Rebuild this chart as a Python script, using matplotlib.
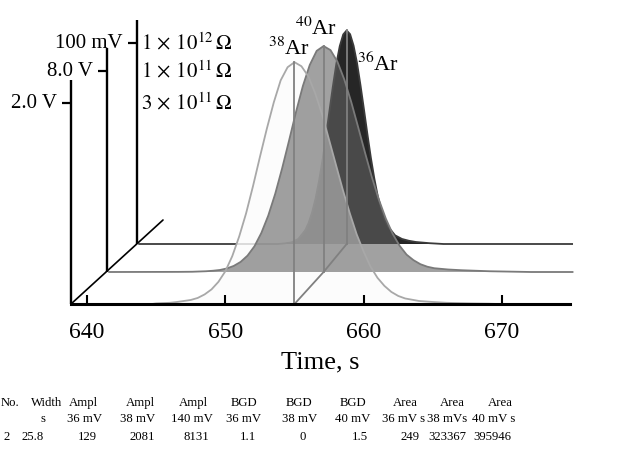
import numpy as np
import matplotlib
matplotlib.use("Agg")
import matplotlib.pyplot as plt
from matplotlib.transforms import offset_copy
from matplotlib.patches import ConnectionPatch

plt.rcParams['font.family'] = ['Liberation Serif', 'DejaVu Serif']
plt.rcParams['mathtext.fontset'] = 'stix'

# ---------------- data ----------------
# 38Ar, front layer (V)
t38 = [644.7, 645.0, 646.0, 646.5, 647.0, 647.5, 648.0, 648.5, 649.0, 649.5,
       650.0, 650.5, 651.0, 651.5, 652.0, 652.5, 653.0, 653.5, 654.0, 654.5,
       655.0, 655.5, 656.0, 656.5, 657.0, 657.5, 658.0, 658.5, 659.0, 659.5,
       660.0, 660.5, 661.0, 661.5, 662.0, 662.5, 663.0, 664.0, 665.0, 666.0,
       667.0, 668.0, 669.0, 669.7]
v38 = [0.0, 0.006, 0.012, 0.02, 0.03, 0.04, 0.06, 0.095, 0.145, 0.22,
       0.325, 0.475, 0.67, 0.90, 1.17, 1.46, 1.74, 2.00, 2.22, 2.35,
       2.40, 2.36, 2.26, 2.09, 1.88, 1.63, 1.38, 1.13, 0.90, 0.69,
       0.52, 0.37, 0.26, 0.18, 0.12, 0.08, 0.055, 0.03, 0.02, 0.012,
       0.008, 0.005, 0.003, 0.0]

# 40Ar, middle layer (V)
t40 = [639.0, 644.0, 645.0, 646.0, 646.5, 647.0, 647.5, 648.0, 648.5, 649.0,
       649.5, 650.0, 650.5, 651.0, 651.5, 652.0, 652.5, 653.0, 653.5, 654.0,
       654.5, 655.0, 655.5, 656.0, 656.5, 657.0, 657.5, 658.0, 658.5, 659.0,
       659.5, 660.0, 660.5, 661.0, 661.5, 662.0, 662.5, 663.5, 664.5, 665.5,
       666.5, 667.5, 668.5, 669.5, 672.5]
v40 = [0.0, 0.005, 0.01, 0.03, 0.05, 0.08, 0.14, 0.24, 0.40, 0.65,
       1.02, 1.55, 2.24, 3.10, 4.11, 5.21, 6.34, 7.38, 8.22, 8.78,
       8.97, 8.81, 8.35, 7.64, 6.75, 5.75, 4.73, 3.75, 2.87, 2.12,
       1.51, 1.04, 0.69, 0.47, 0.31, 0.21, 0.15, 0.10, 0.07, 0.05,
       0.03, 0.02, 0.01, 0.0, 0.0]

# 36Ar, back layer (mV)
t36 = [639.0, 649.0, 649.5, 650.0, 650.5, 651.0, 651.25, 651.5, 651.75, 652.0,
       652.25, 652.5, 652.75, 653.0, 653.25, 653.5, 653.75, 654.0, 654.25, 654.5,
       654.75, 655.0, 655.25, 655.5, 655.75, 656.0, 656.25, 656.5, 656.75, 657.0,
       657.5, 658.0, 658.5, 659.0, 660.0, 661.0, 670.3]
v36 = [0.0, 0.0, 0.3, 0.8, 2.5, 6.8, 10.5, 15.7, 22.6, 31.3,
       41.6, 53.3, 65.8, 78.1, 89.3, 98.2, 104.0, 106.0, 104.1, 98.4,
       89.8, 78.8, 66.8, 54.5, 42.8, 32.5, 23.7, 17.5, 12.3, 8.6,
       4.3, 2.5, 1.6, 1.0, 0.4, 0.0, 0.0]

isotopes = ["$^{38}$Ar", "$^{40}$Ar", "$^{36}$Ar"]
tick_values = [2.0, 8.0, 100.0]
tick_labels = ["2.0 V", "8.0 V", "100 mV"]
resistors = [r"$3\,\times\,10^{11}\,\Omega$", r"$1\,\times\,10^{11}\,\Omega$", r"$1\,\times\,10^{12}\,\Omega$"]

xticks = [640, 650, 660, 670]

table_head = ["No.", "Width", "Ampl", "Ampl", "Ampl", "BGD", "BGD", "BGD", "Area", "Area", "Area"]
table_unit = ["", "s", "36 mV", "38 mV", "140 mV", "36 mV", "38 mV", "40 mV", "36 mV s", "38 mVs", "40 mV s"]
table_vals = ["2", "25.8", "129", "2081", "8131", "1.1", "0", "1.5", "249", "323367", "395946"]

# ---------------- layout ----------------
W, H = 627, 452
fig = plt.figure(figsize=(W / 100, H / 100), dpi=100)
ax = fig.add_axes([71 / W, (H - 305) / H, 499 / W, 300 / H])
ax.set_xlim(638.84, 674.92)
ax.set_ylim(0, 300 / 201.5)
for s in ['top', 'right', 'left']:
    ax.spines[s].set_visible(False)
ax.spines['bottom'].set_linewidth(2.2)
ax.spines['bottom'].set_zorder(8)
ax.xaxis.set_zorder(9)
ax.set_xticks(xticks)
ax.set_yticks([])
ax.tick_params(axis='x', direction='in', length=6.5, width=1.5, labelsize=17, pad=12)
ax.set_xlabel('Time, s', fontsize=19, labelpad=6)

offsets = [(0, 0), (36, 32), (66, 60)]
trs = [offset_copy(ax.transData, fig=fig, x=dx, y=dy, units='dots') for dx, dy in offsets]
x0 = ax.get_xlim()[0]
axis_h = 1.11

series = [(t38, v38), (t40, v40), (t36, v36)]
norm = [np.array(v) / tv for (_, v), tv in zip(series, tick_values)]
tarr = [np.array(t) for t, _ in series]

# back: 36Ar
tb, yb = tarr[2], norm[2]
ax.fill(np.r_[tb, tb[::-1]], np.r_[yb, np.zeros_like(yb)], transform=trs[2],
        color='#262626', lw=0, zorder=2, clip_on=False)
ax.plot(tb, yb, transform=trs[2], color='#3a3a3a', lw=1.3, zorder=2.1, clip_on=False)

# front: 38Ar fill (whitish veil)
tf, yf = tarr[0], norm[0]
ax.fill(np.r_[tf, tf[::-1]], np.r_[yf, np.zeros_like(yf)], transform=trs[0],
        color='#fcfcfc', alpha=0.82, lw=0, zorder=3, clip_on=False)

# middle: 40Ar
tm, ym = tarr[1], norm[1]
ax.fill(np.r_[tm, tm[::-1]], np.r_[ym, np.zeros_like(ym)], transform=trs[1],
        color='#626262', alpha=0.6, lw=0, zorder=4, clip_on=False)
ax.plot(tm, ym, transform=trs[1], color='#7a7a7a', lw=1.3, zorder=4.1, clip_on=False)

# 38Ar outline
ax.plot(tf, yf, transform=trs[0], color='#a8a8a8', lw=1.3, zorder=5, clip_on=False)

# peak lines
peak_t = []
for i in range(3):
    k = int(np.argmax(norm[i]))
    pt, pv = tarr[i][k], norm[i][k]
    peak_t.append(pt)
    ax.plot([pt, pt], [0, pv], transform=trs[i], color='#808080', lw=1.3, zorder=6, clip_on=False)
for i in range(2):
    cp = ConnectionPatch((peak_t[i], 0), (peak_t[i + 1], 0), coordsA=trs[i], coordsB=trs[i + 1],
                         color='#808080', lw=1.3, zorder=6)
    ax.add_artist(cp)

# depth axis
depth_end = offset_copy(ax.transData, fig=fig, x=92, y=84, units='dots')
ax.add_artist(ConnectionPatch((x0, 0), (x0, 0), coordsA=trs[0], coordsB=depth_end,
                              color='black', lw=1.2, zorder=7))

# vertical axes, ticks, labels
for i in range(3):
    ax.plot([x0, x0], [0, axis_h], transform=trs[i], color='black', lw=1.7,
            zorder=7, clip_on=False, solid_capstyle='butt')
    ax.plot([x0], [1.0], transform=trs[i], marker=0, markersize=6.5, mew=1.6,
            color='black', zorder=7, clip_on=False)
    ax.annotate(tick_labels[i], xy=(x0, 1.0), xycoords=trs[i], xytext=(-14, 0),
                textcoords='offset pixels', ha='right', va='center', fontsize=15)
    ax.annotate(resistors[i], xy=(x0, 1.0), xycoords=trs[i],
                xytext=(offsets[2][0] - offsets[i][0] + 4, -6),
                textcoords='offset pixels', ha='left', va='baseline', fontsize=15)

# isotope labels
lab_off = [(-5, 8, 'center'), (-8, 12, 'center'), (10, -40, 'left')]
for i in range(3):
    k = int(np.argmax(norm[i]))
    dx, dy, ha = lab_off[i]
    ax.annotate(isotopes[i], xy=(tarr[i][k], norm[i][k]), xycoords=trs[i], xytext=(dx, dy),
                textcoords='offset pixels', ha=ha, va='baseline', fontsize=16)

# table
xh = [10, 47, 83, 140, 193, 244, 299, 353, 405, 452, 500]
xu = [10, 43, 85, 138, 192, 244, 300, 353, 404, 447, 494]
xv = [7, 33, 87, 142, 196, 248, 303, 360, 410, 447, 492]
for row, xs, yy in [(table_head, xh, 403), (table_unit, xu, 419), (table_vals, xv, 437)]:
    for txt, xx in zip(row, xs):
        fig.text(xx / W, 1 - yy / H, txt, ha='center', va='center', fontsize=9.2)

fig.savefig('out.png', dpi=100)
